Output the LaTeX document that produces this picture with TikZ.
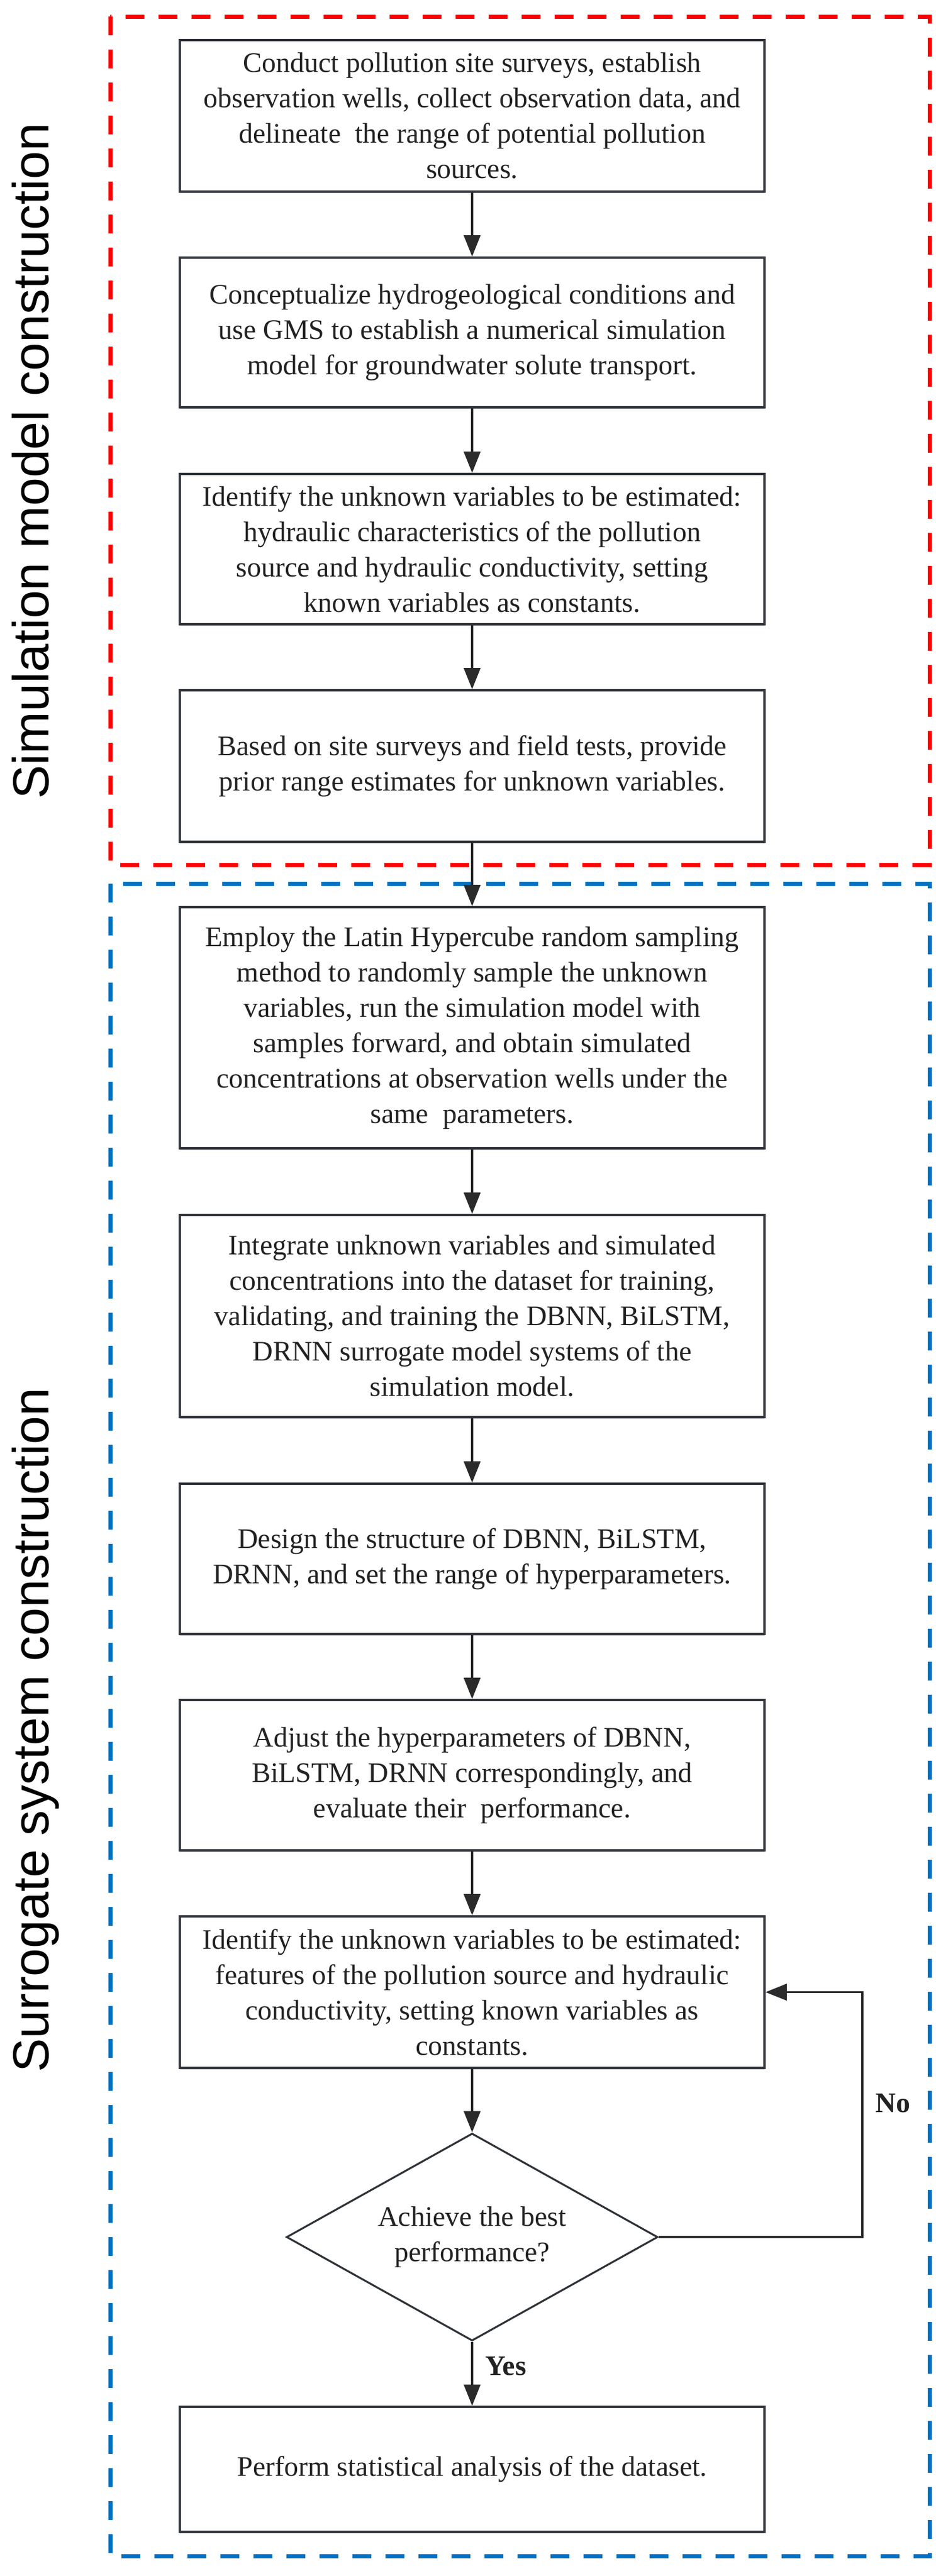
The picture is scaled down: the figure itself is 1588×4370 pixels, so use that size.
\documentclass[tikz,border=0pt]{standalone}
\usepackage{fontspec}
\setmainfont{Liberation Serif}
\setsansfont{Liberation Sans}
\usetikzlibrary{arrows.meta,shapes.geometric,shadows}
\definecolor{boxc}{HTML}{2F3338}
\definecolor{arrc}{HTML}{2B2B2B}
\definecolor{txtc}{HTML}{222222}
\definecolor{redc}{HTML}{FF0000}
\definecolor{bluec}{HTML}{0070C0}
\tikzset{
  stepbox/.style={draw=boxc, fill=white, line width=1.8pt, rectangle, inner sep=0pt,
    minimum width=496pt, align=center, text=txtc,
    drop shadow={shadow xshift=0pt, shadow yshift=-1.5pt, fill=gray!60, opacity=0.7},
    font=\fontsize{24}{30}\selectfont},
  decbox/.style={draw=boxc, line width=1.6pt, diamond, aspect=1.79, inner sep=0pt,
    minimum width=315pt, minimum height=176pt, align=center, text=txtc,
    font=\fontsize{24}{30}\selectfont},
  arr/.style={draw=arrc, line width=1.6pt, -{Triangle[length=18pt,width=14pt]}},
  frame/.style={line width=3.5pt, dash pattern=on 16pt off 12pt},
  sidelab/.style={rotate=90, anchor=base, inner sep=0pt, text=black,
    font=\sffamily\fontsize{43}{50}\selectfont},
  lab/.style={inner sep=0pt, text=txtc, font=\bfseries\fontsize{24}{30}\selectfont}
}
\begin{document}
\begin{tikzpicture}[x=0.5pt, y=-0.5pt]
\useasboundingbox[fill=white] (0,0) rectangle (1588,4370);
% frames
\draw[frame, draw=redc] (187,28) rectangle (1577,1467);
\draw[frame, draw=bluec] (187,1499) rectangle (1577,4336);
% side labels
\node[sidelab] (lab1) at (82,782) {Simulation model construction};
\node[sidelab] (lab2) at (82,2935) {Surrogate system construction};
% boxes
\node[stepbox, minimum height=128.5pt] (b1) at (801,196.5) {Conduct pollution site surveys, establish\\observation wells, collect observation data, and\\delineate \ the range of potential pollution\\sources.};
\node[stepbox, minimum height=127pt] (b2) at (801,564) {Conceptualize hydrogeological conditions and\\use GMS to establish a numerical simulation\\model for groundwater solute transport.};
\node[stepbox, minimum height=127.5pt] (b3) at (801,931.5) {Identify the unknown variables to be estimated:\\hydraulic characteristics of the pollution\\source and hydraulic conductivity, setting\\known variables as constants.};
\node[stepbox, minimum height=128.5pt] (b4) at (801,1299.5) {Based on site surveys and field tests, provide\\prior range estimates for unknown variables.};
\node[stepbox, minimum height=204.5pt] (b5) at (801,1743.5) {Employ the Latin Hypercube random sampling\\method to randomly sample the unknown\\variables, run the simulation model with\\samples forward, and obtain simulated\\concentrations at observation wells under the\\same \ parameters.};
\node[stepbox, minimum height=171.5pt] (b6) at (801,2232.5) {Integrate unknown variables and simulated\\concentrations into the dataset for training,\\validating, and training the DBNN, BiLSTM,\\DRNN surrogate model systems of the\\simulation model.};
\node[stepbox, minimum height=127.5pt] (b7) at (801,2644.5) {Design the structure of DBNN, BiLSTM,\\DRNN, and set the range of hyperparameters.};
\node[stepbox, minimum height=127.5pt] (b8) at (801,3011.5) {Adjust the hyperparameters of DBNN,\\BiLSTM, DRNN correspondingly, and\\evaluate their \ performance.};
\node[stepbox, minimum height=128.5pt] (b9) at (801,3379.5) {Identify the unknown variables to be estimated:\\features of the pollution source and hydraulic\\conductivity, setting known variables as\\constants.};
\node[decbox] (dia) at (801,3795) {Achieve the best\\performance?};
\node[stepbox, minimum height=106pt] (b10) at (801,4189) {Perform statistical analysis of the dataset.};
% connectors
\draw[arr] (b1) -- (b2);
\draw[arr] (b2) -- (b3);
\draw[arr] (b3) -- (b4);
\draw[arr] (b4) -- (b5);
\draw[arr] (b5) -- (b6);
\draw[arr] (b6) -- (b7);
\draw[arr] (b7) -- (b8);
\draw[arr] (b8) -- (b9);
\draw[arr] (b9) -- (dia);
\draw[arr] (dia) -- (b10);
\coordinate (fb) at (1463,3795);
\draw[arr] (dia.east) -- (fb) |- (b9.east);
\node[lab] (no) at (1515,3568) {No};
\node[lab] (yes) at (858,4014) {Yes};
\end{tikzpicture}
\end{document}
